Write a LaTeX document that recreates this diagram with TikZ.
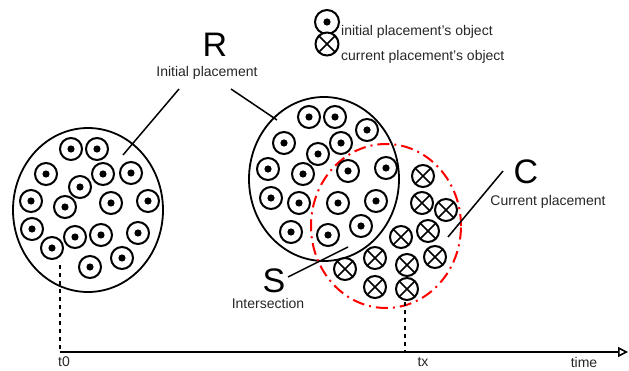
\documentclass[tikz,border=0pt]{standalone}
\usepackage{fontspec}
\setmainfont{Liberation Sans}
\usetikzlibrary{shapes.geometric,arrows.meta}
\begin{document}
\begin{tikzpicture}[x=1pt,y=-1pt,
  obj/.style={circle,draw,line width=2pt,fill=white,minimum size=22pt,inner sep=0pt},
  dotobj/.style={obj,path picture={\fill[black] (path picture bounding box.center) circle (3.6pt);}},
  crossobj/.style={obj,path picture={\draw[black,line width=1.7pt]
     (path picture bounding box.south west) -- (path picture bounding box.north east)
     (path picture bounding box.north west) -- (path picture bounding box.south east);}},
  region/.style={ellipse,draw,line width=1.8pt,minimum width=150pt,minimum height=164pt,inner sep=0pt},
  small/.style={font=\fontsize{14}{16}\selectfont,text=black!85,inner sep=0pt},
  big/.style={font=\fontsize{34}{40}\selectfont,inner sep=0pt},
  leader/.style={line width=1.5pt},
  timeline/.style={line width=1.6pt,dash pattern=on 4pt off 4pt}]
\useasboundingbox (0,0) rectangle (629,371);

% regions
\node[region] (R0) at (88,210) {};
\node[region] (R1) at (324,179) {};
\node[region,draw=red,line width=2pt,dash pattern=on 12pt off 5pt on 2pt off 5pt] (C) at (386,226) {};

% initial placement objects (t0)
\foreach \x/\y [count=\i] in {71/149,97/149,46/174,103/174,131/173,80/187,31/201,65/207,111/203,148/201,32/229,52/248,75/237,101/235,138/233,122/258,90/267}
  \node[dotobj] (a\i) at (\x,\y) {};

% initial placement objects (tx)
\foreach \x/\y [count=\i] in {309/117,335/117,367/130,284/143,341/143,318/154,268/169,303/174,348/171,386/168,271/198,299/203,338/203,376/201,291/232,328/235,361/226}
  \node[dotobj] (b\i) at (\x,\y) {};

% current placement objects
\foreach \x/\y [count=\i] in {423/176,422/203,446/210,401/237,428/231,435/257,407/265,375/258,345/269,375/287,407/289}
  \node[crossobj] (c\i) at (\x,\y) {};

% labels
\node[big] (Rl) at (215,45) {R};
\node[small] (Rt) at (207,73) {Initial placement};
\node[big] (Cl) at (526,172) {C};
\node[small] (Ct) at (548,202) {Current placement};
\node[big] (Sl) at (274,281) {S};
\node[small] (St) at (268,303) {Intersection};

% leader lines
\coordinate (r1a) at (179,89); \coordinate (r1b) at (123,155);
\coordinate (r2a) at (231,89); \coordinate (r2b) at (277,120);
\coordinate (ca) at (503,171); \coordinate (cb) at (448,237);
\coordinate (sa) at (288,277); \coordinate (sb) at (348,247);
\draw[leader] (r1a) -- (r1b);
\draw[leader] (r2a) -- (r2b);
\draw[leader] (ca) -- (cb);
\draw[leader] (sa) -- (sb);

% legend
\node[dotobj,minimum size=24pt] (L1) at (327,22) {};
\node[crossobj,minimum size=23pt] (L2) at (327,44) {};
\node[small,anchor=west] (L1t) at (341,32) {initial placement's object};
\node[small,anchor=west] (L2t) at (341,57) {current placement's object};

% time axis
\coordinate (t0) at (60,352);
\coordinate (tx) at (405,352);
\coordinate (tend) at (628,352);
\coordinate (t0top) at (60,265);
\coordinate (txtop) at (405,302);
\draw[timeline] (t0top) -- (t0);
\draw[timeline] (txtop) -- (tx);
\draw[line width=1.6pt,-{Triangle[open,length=10pt,width=10pt]}] (t0) -- (tend);
\node[small] (t0l) at (64,362) {t0};
\node[small] (txl) at (423,362) {tx};
\node[small] (timel) at (584,362) {time};
\end{tikzpicture}
\end{document}
